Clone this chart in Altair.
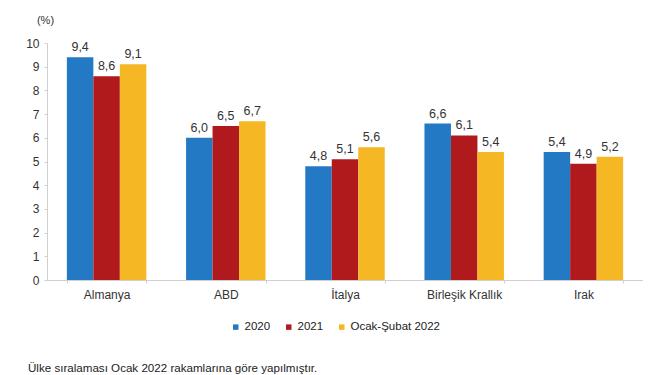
import altair as alt
import pandas as pd

countries = ["Almanya", "ABD", "İtalya", "Birleşik Krallık", "Irak"]
series = ["2020", "2021", "Ocak-Şubat 2022"]
v2020 = [9.4, 6.0, 4.8, 6.6, 5.4]
v2021 = [8.6, 6.5, 5.1, 6.1, 4.9]
v2022 = [9.1, 6.7, 5.6, 5.4, 5.2]
colors = ["#2479c4", "#b01a1c", "#f5b724"]
y_ticks = list(range(0, 11))
note = "Ülke sıralaması Ocak 2022 rakamlarına göre yapılmıştır."

rows = []
for s, vals in zip(series, [v2020, v2021, v2022]):
    for c, v in zip(countries, vals):
        rows.append({"Ülke": c, "Dönem": s, "Değer": v,
                     "Etiket": f"{v:.1f}".replace(".", ",")})
df = pd.DataFrame(rows)

FONT = "Liberation Sans"

x = alt.X("Ülke:N", sort=countries, title=None,
          scale=alt.Scale(paddingInner=1/3, paddingOuter=1/6),
          axis=alt.Axis(labelAngle=0, labelFontSize=12, labelColor="#333333",
                        labelFont=FONT, domainColor="#d0d0d0", tickColor="#d0d0d0",
                        tickBand="extent", tickSize=3, labelPadding=6))
xo = alt.XOffset("Dönem:N", sort=series, scale=alt.Scale(paddingInner=0, paddingOuter=0))
y = alt.Y("Değer:Q", scale=alt.Scale(domain=[0, 10], nice=False),
          axis=alt.Axis(values=y_ticks, grid=False, title="(%)", titleAngle=0,
                        titleX=-2, titleY=-23, titleAlign="center",
                        titleBaseline="middle", titleFontSize=11,
                        titleFontWeight="normal", titleFont=FONT, titleColor="#333333",
                        labelFontSize=12, labelColor="#333333", labelFont=FONT,
                        labelOverlap=False,
                        domainColor="#d0d0d0", tickColor="#d0d0d0", tickSize=3,
                        labelPadding=5))

bars = alt.Chart(df).mark_bar().encode(
    x=x,
    xOffset=xo,
    y=y,
    color=alt.Color("Dönem:N", sort=series,
                    scale=alt.Scale(domain=series, range=colors),
                    legend=alt.Legend(title=None, orient="none", direction="horizontal",
                                      legendX=183, legendY=278, symbolType="square",
                                      symbolSize=30, symbolStrokeWidth=0,
                                      labelFontSize=11.5, labelFont=FONT,
                                      labelColor="#222222", columnPadding=12,
                                      symbolOffset=0, labelOffset=3)),
)

labels = alt.Chart(df).mark_text(dy=-10, fontSize=12.5, font=FONT, color="#333333").encode(
    x=x,
    xOffset=xo,
    y=y,
    text="Etiket:N",
)

footer = alt.Chart(pd.DataFrame({"t": [note]})).mark_text(
    align="left", baseline="middle", fontSize=11.6, font=FONT, color="#222222"
).encode(x=alt.value(-19), y=alt.value(326), text="t:N")

chart = alt.layer(bars, labels, footer).properties(
    width=596, height=237,
    padding={"left": 17, "top": 6, "right": 0, "bottom": 2},
).configure_view(stroke=None)

chart.save("out.html", embed_options={"renderer": "svg", "actions": False})
